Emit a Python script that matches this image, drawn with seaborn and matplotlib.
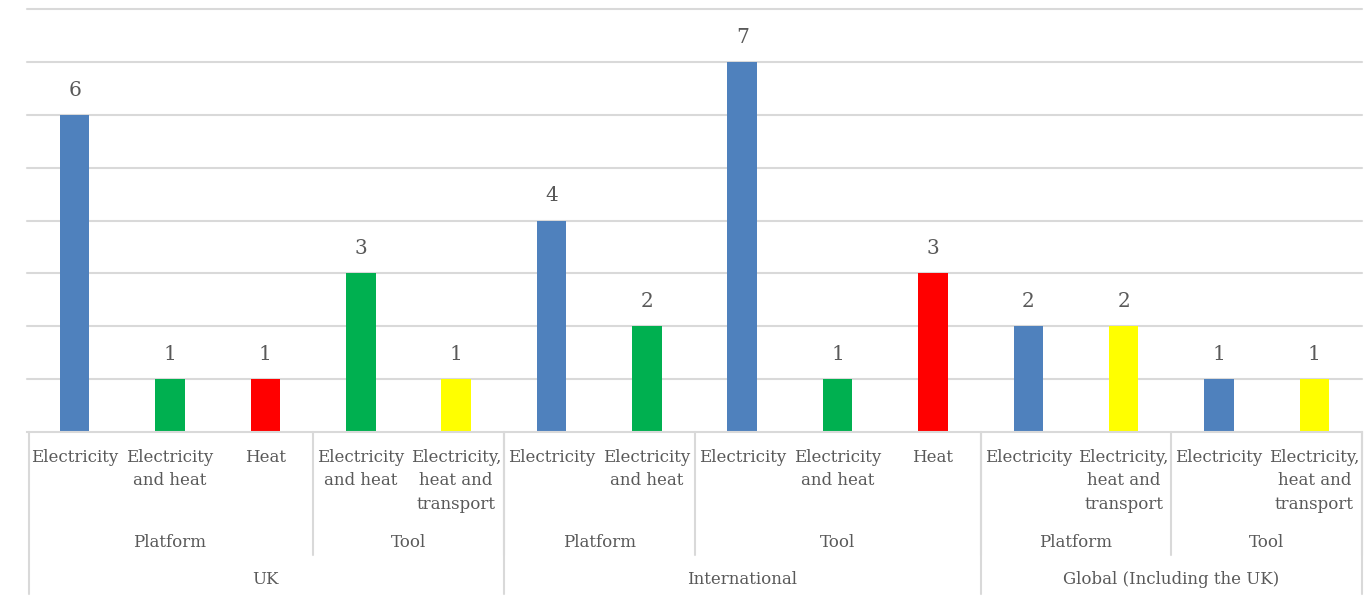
import matplotlib
matplotlib.use("Agg")
import matplotlib.pyplot as plt
import matplotlib.transforms as mtransforms
import seaborn as sns
import pandas as pd

# Hierarchical categories: region > product type > energy scope
regions = ["UK", "International", "Global (Including the UK)"]
region_spans = [5, 5, 4]

types = ["Platform", "Tool", "Platform", "Tool", "Platform", "Tool"]
type_spans = [3, 2, 2, 3, 2, 2]

scopes = [
    "Electricity", "Electricity\nand heat", "Heat",
    "Electricity\nand heat", "Electricity,\nheat and\ntransport",
    "Electricity", "Electricity\nand heat",
    "Electricity", "Electricity\nand heat", "Heat",
    "Electricity", "Electricity,\nheat and\ntransport",
    "Electricity", "Electricity,\nheat and\ntransport",
]
counts = [6, 1, 1, 3, 1, 4, 2, 7, 1, 3, 2, 2, 1, 1]

scope_colors = {
    "Electricity": "#4F81BD",
    "Electricity\nand heat": "#00B050",
    "Heat": "#FF0000",
    "Electricity,\nheat and\ntransport": "#FFFF00",
}

text_color = "#595959"
grid_color = "#D9D9D9"

sns.set_theme(style="white")
plt.rcParams["font.family"] = ["DejaVu Serif"]

df = pd.DataFrame({
    "slot": [f"c{i}" for i in range(len(counts))],
    "scope": scopes,
    "count": counts,
})
palette = {s: scope_colors[c] for s, c in zip(df["slot"], df["scope"])}

fig = plt.figure(figsize=(13.7, 6.04), dpi=100)
ax = fig.add_axes([0.0197, 0.2848, 0.9745, 0.7002])

sns.barplot(data=df, x="slot", y="count", hue="slot", palette=palette,
            legend=False, width=0.31, saturation=1, linewidth=0,
            edgecolor="none", ax=ax)

ax.set_xlim(-0.5, len(counts) - 0.5)
ax.set_ylim(0, 8)
ax.set_yticks(range(1, 9))
ax.yaxis.grid(True, color=grid_color, linewidth=1.5)
for gl in ax.get_ygridlines():
    gl.set_clip_on(False)
ax.set_axisbelow(True)
ax.set_yticklabels([])
ax.tick_params(left=False, bottom=False)
ax.set_xticks([])
ax.set_xlabel("")
ax.set_ylabel("")
for side in ["top", "right", "left"]:
    ax.spines[side].set_visible(False)
ax.spines["bottom"].set_color(grid_color)
ax.spines["bottom"].set_linewidth(1.5)

for cont in ax.containers:
    ax.bar_label(cont, fmt="%d", padding=11, fontsize=14.5, color=text_color)

trans = mtransforms.blended_transform_factory(ax.transData, ax.transAxes)
ax_h_px = 0.7002 * 604


def yfrac(ypx):
    # convert a pixel row in the figure to an axes fraction
    return (432 - ypx) / ax_h_px


# energy scope labels
for i, lab in enumerate(scopes):
    ax.text(i, yfrac(449), lab, transform=trans, ha="center", va="top",
            fontsize=12, color=text_color, linespacing=1.5, clip_on=False)

# product type labels and separators
start = 0
for name, span in zip(types, type_spans):
    mid = start + span / 2 - 0.5
    ax.text(mid, yfrac(543), name, transform=trans, ha="center", va="center",
            fontsize=12, color=text_color, clip_on=False)
    start += span
    ax.plot([start - 0.5, start - 0.5], [0, yfrac(555)], transform=trans,
            color=grid_color, lw=1.5, clip_on=False)

# region labels and separators
start = 0
ax.plot([-0.48, -0.48], [0, yfrac(594)], transform=trans,
        color=grid_color, lw=1.5, clip_on=False)
for name, span in zip(regions, region_spans):
    mid = start + span / 2 - 0.5
    ax.text(mid, yfrac(580), name, transform=trans, ha="center", va="center",
            fontsize=12, color=text_color, clip_on=False)
    start += span
    ax.plot([start - 0.5, start - 0.5], [0, yfrac(594)], transform=trans,
            color=grid_color, lw=1.5, clip_on=False)

fig.savefig("out.png", dpi=100, facecolor="white")
